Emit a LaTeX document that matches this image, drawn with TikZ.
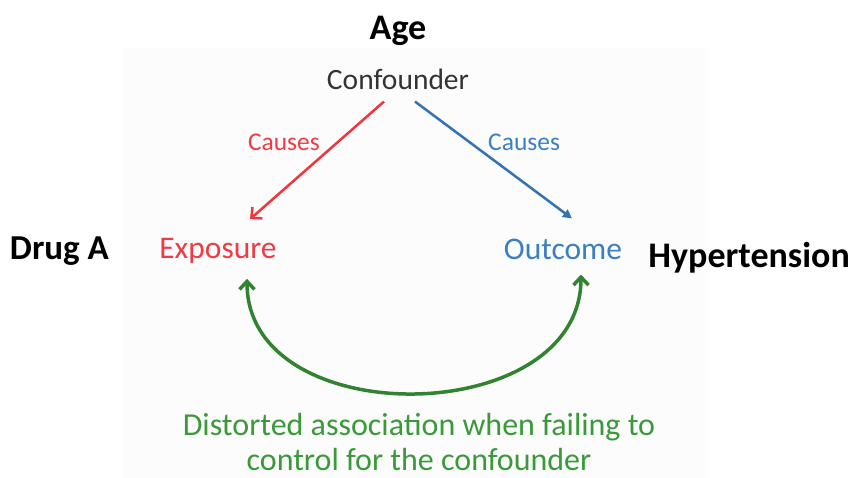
\documentclass[tikz,border=0pt]{standalone}
\usepackage{fontspec}
\setmainfont{Carlito}
\usepackage{tikz}
\usetikzlibrary{arrows.meta,positioning}
\definecolor{conf}{HTML}{333333}
\definecolor{expo}{HTML}{EE3B44}
\definecolor{outc}{HTML}{3A7FC4}
\definecolor{assoc}{HTML}{3A9A3A}
\definecolor{backdrop}{HTML}{FCFCFC}
\tikzset{
    %Define standard arrow tip
    >={Straight Barb[length=8pt,width=15pt]},
    %Define style for the words
    term/.style={
           inner sep=0pt,
           font=\fontsize{31.5}{36}\selectfont,
           text centered},
    example/.style={
           inner sep=0pt,
           font=\bfseries\fontsize{36}{40}\selectfont},
    causes/.style={
           inner sep=0pt,
           font=\fontsize{25.5}{30}\selectfont},
    % Define arrow style
    pil/.style={
           ->,
           line width=2.5pt},
    assocarc/.style={
           <->,
           line width=3.5pt,
           draw=assoc!85!black}
}
\begin{document}
\begin{tikzpicture}[x=1pt,y=-1pt,node distance=26pt]
\useasboundingbox (0,0) rectangle (852,478);
\fill[backdrop] (123,48) rectangle (708,478);
\node[term, text=conf, font=\fontsize{29.5}{36}\selectfont] at (398,79) (C){Confounder};
\node[term, text=expo] at (218,251) (E){Exposure};
\node[term, text=outc] at (563,249) (O){Outcome};
\node[example, above=23pt of C](Age){Age};
\node[example, left=50pt of E, font=\bfseries\fontsize{35}{40}\selectfont](Drug){Drug A};
\node[example, right=26pt of O, yshift=-9pt](Hyp){Hypertension};
\node[term, text=assoc, align=center, font=\fontsize{32}{35}\selectfont] at (419,442) (T){Distorted association when failing to\\control for the confounder};
\draw[pil, draw=expo!90!red] ([xshift=-14pt,yshift=-12pt]C.south) -- ([xshift=32pt,yshift=19pt]E.north)
	node[causes, text=expo, pos=0.35, left=16pt]{Causes};
\draw[pil, draw=outc!90!black, -{Triangle[length=9pt,width=9pt]}] ([xshift=17pt,yshift=-12pt]C.south) -- ([xshift=9pt,yshift=20pt]O.north)
	node[causes, text=outc, pos=0.35, right=17pt]{Causes};
\draw[assocarc] ([xshift=29pt,yshift=-15pt]E.south) .. controls +(0,155) and +(0,155) .. ([xshift=18pt,yshift=-15pt]O.south);
\end{tikzpicture}
\end{document}
